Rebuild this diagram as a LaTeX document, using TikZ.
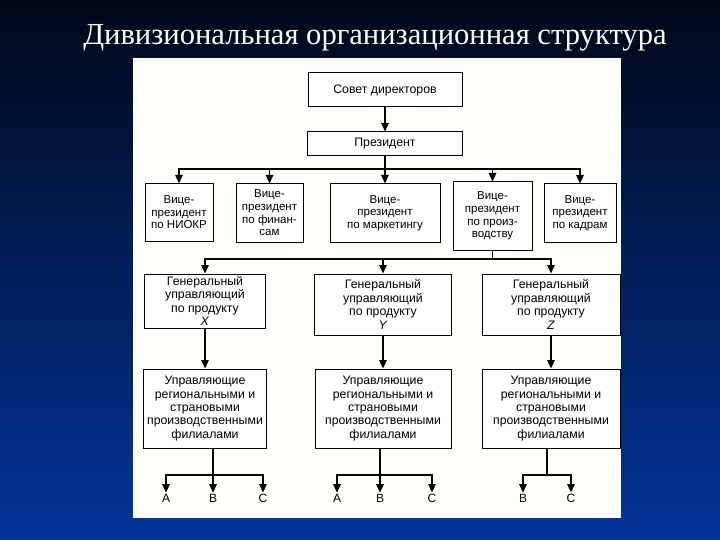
\documentclass[tikz,border=0pt]{standalone}
\usepackage{fontspec}
\setmainfont{Liberation Serif}
\newfontfamily\chartfont{Liberation Sans}
\usetikzlibrary{positioning,arrows.meta}
\definecolor{slidetop}{HTML}{010819}
\definecolor{slidemid}{HTML}{02277E}
\definecolor{slidebottom}{HTML}{03349A}

\begin{document}
\begin{tikzpicture}[
  x=1pt, y=-1pt,
  box/.style={draw, line width=1pt, fill=white, align=center, inner sep=1pt,
    font=\chartfont\fontsize{12.3}{13.4}\selectfont},
  vpbox/.style={box, font=\chartfont\fontsize{11.5}{12.6}\selectfont},
  letter/.style={font=\chartfont\fontsize{12}{13}\selectfont, inner sep=1pt},
  arrow/.style={-{Triangle[length=8.5pt,width=7.5pt]}, line width=1.2pt},
  link/.style={line width=1.2pt}
]
% slide background and sheet
\shade[top color=slidetop, middle color=slidemid, bottom color=slidebottom] (0,0) rectangle (720,540);
\useasboundingbox (0,0) rectangle (720,540);
\fill[white!99!yellow] (133,58) rectangle (621,518);

\node[text=white, font=\fontsize{30.6}{36}\selectfont, anchor=base] (title) at (375,45) {Дивизиональная организационная структура};

% top management
\node[box, minimum width=154pt, minimum height=34pt] (board) at (385,90) {Совет директоров};
\node[box, minimum width=155pt, minimum height=24pt, below=24pt of board] (pres) {Президент};

% vice presidents
\node[vpbox, minimum width=68pt, minimum height=57pt] (vpR) at (179,212.5) {Вице-\\президент\\по НИОКР};
\node[vpbox, minimum width=67pt, minimum height=58pt] (vpF) at (269.5,213) {Вице-\\президент\\по финан-\\сам};
\node[vpbox, minimum width=110pt, minimum height=58pt] (vpM) at (385,213) {Вице-\\президент\\по маркетингу};
\node[vpbox, minimum width=79pt, minimum height=68pt] (vpP) at (492.5,216) {Вице-\\президент\\по произ-\\водству};
\node[vpbox, minimum width=72pt, minimum height=58pt] (vpK) at (580,213) {Вице-\\президент\\по кадрам};

% product managers
\node[box, minimum width=121pt, minimum height=54pt] (gmX) at (205,301) {Генеральный\\управляющий\\по продукту\\\textit{X}};
\node[box, minimum width=137pt, minimum height=61pt] (gmY) at (383,304.5) {Генеральный\\управляющий\\по продукту\\\textit{Y}};
\node[box, minimum width=138pt, minimum height=61pt] (gmZ) at (551,304.5) {Генеральный\\управляющий\\по продукту\\\textit{Z}};

% regional branches
\node[box, minimum width=123pt, minimum height=79pt] (mgrX) at (205,408.5) {Управляющие\\региональными и\\страновыми\\производственными\\филиалами};
\node[box, minimum width=136pt, minimum height=79pt] (mgrY) at (383,408.5) {Управляющие\\региональными и\\страновыми\\производственными\\филиалами};
\node[box, minimum width=138pt, minimum height=79pt] (mgrZ) at (551,408.5) {Управляющие\\региональными и\\страновыми\\производственными\\филиалами};

\node[letter] (aX) at (166,498) {A};
\node[letter] (bX) at (213,498) {B};
\node[letter] (cX) at (263,498) {C};
\node[letter] (aY) at (337,498) {A};
\node[letter] (bY) at (380,498) {B};
\node[letter] (cY) at (432,498) {C};
\node[letter] (bZ) at (523,498) {B};
\node[letter] (cZ) at (571,498) {C};

% connectors
\draw[arrow] (board) -- (pres);
\coordinate (jpres) at (pres.south |- 0,169);
\draw[link] (pres) -- (jpres);
\foreach \n in {vpR,vpF,vpM,vpP,vpK}
  \draw[arrow] (jpres) -| (\n.north);

\coordinate (jprod) at (vpP.south |- 0,259);
\draw[link] (vpP) -- (jprod);
\foreach \n in {gmX,gmY,gmZ}
  \draw[arrow] (jprod) -| (\n.north);

\draw[arrow] (gmX) -- (mgrX);
\draw[arrow] (gmY) -- (mgrY);
\draw[arrow] (gmZ) -- (mgrZ);

\coordinate (jX) at (bX |- 0,475);
\draw[link] (bX |- mgrX.south) -- (jX);
\foreach \n in {aX,bX,cX}
  \draw[arrow] (jX) -| (\n.north);
\coordinate (jY) at (bY |- 0,475);
\draw[link] (bY |- mgrY.south) -- (jY);
\foreach \n in {aY,bY,cY}
  \draw[arrow] (jY) -| (\n.north);
\coordinate (jZ) at (547,475);
\draw[link] (jZ |- mgrZ.south) -- (jZ);
\foreach \n in {bZ,cZ}
  \draw[arrow] (jZ) -| (\n.north);
\end{tikzpicture}
\end{document}
